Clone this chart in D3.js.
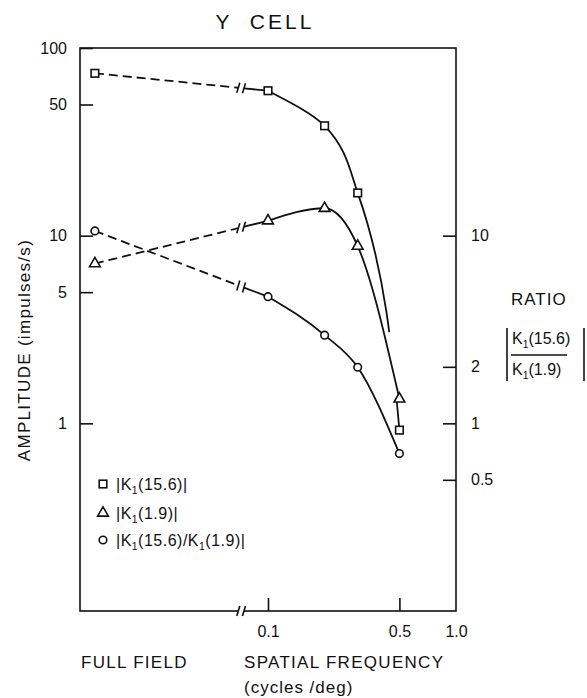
<!DOCTYPE html>
<html>
<head>
<meta charset="utf-8">
<script src="https://cdn.jsdelivr.net/npm/d3@7"></script>
<style>
body { margin: 0; background: #fff; }
text { font-family: "Liberation Sans", Arial, sans-serif; fill: #111; white-space: pre; }
</style>
</head>
<body>
<svg id="chart" width="587" height="698"></svg>
<script>
// data
var fullField = 0.012;              // x position used for the "full field" points
var breakLo = 0.0695, breakHi = 0.0745;  // axis break between full field and 0.1
var frequencies = [0.1, 0.2, 0.3, 0.5];   // cycles/deg
var k156Full = 73.3, k19Full = 7.1, ratioFull = 10.6;
var k156 = [59.2, 38.5, 16.9, 0.92];
var k19 = [12.0, 14.0, 8.8, 1.35];
var ratio = [4.73, 2.95, 1.99, 0.69];
var leftTicks = [100, 50, 10, 5, 1];
var rightTicks = [10, 2, 1, 0.5];
var bottomTicks = [0.1, 0.5, 1.0];

var series = [
    {shape: "square", full: k156Full, vals: k156},
    {shape: "triangle", full: k19Full, vals: k19},
    {shape: "circle", full: ratioFull, vals: ratio}
];

var svg = d3.select("#chart");
var plotL = 80, plotR = 456, plotT = 48, plotB = 611;

var x = d3.scaleLog().domain([0.01, 1]).range([plotL, plotR]);
var y = d3.scaleLog().domain([0.1, 100]).range([plotB, plotT]);

// title
svg.append("text").attr("x", 265).attr("y", 29).attr("text-anchor", "middle")
    .attr("font-size", 21).attr("letter-spacing", 3).text("Y  CELL");

// frame
svg.append("rect").attr("x", plotL).attr("y", plotT)
    .attr("width", plotR - plotL).attr("height", plotB - plotT)
    .attr("fill", "none").attr("stroke", "#111").attr("stroke-width", 1.6);

// axes
var gl = svg.append("g").attr("transform", "translate(" + plotL + ",0)")
    .call(d3.axisLeft(y).tickValues(leftTicks).tickSize(-13).tickPadding(13)
        .tickFormat(function(d){ return String(d); }));
var gr = svg.append("g").attr("transform", "translate(" + plotR + ",0)")
    .call(d3.axisRight(y).tickValues(rightTicks).tickSize(-13).tickPadding(15)
        .tickFormat(function(d){ return String(d); }));
var gb = svg.append("g").attr("transform", "translate(0," + plotB + ")")
    .call(d3.axisBottom(x).tickValues(bottomTicks).tickSize(-13).tickPadding(15)
        .tickFormat(function(d){ return d === 1 ? "1.0" : String(d); }));
[gl, gr, gb].forEach(function(g){
    g.select(".domain").remove();
    g.selectAll("line").attr("stroke", "#111").attr("stroke-width", 1.6);
    g.selectAll("text").attr("font-size", 16).attr("font-family", null).attr("fill", "#111");
});
gb.selectAll(".tick").filter(function(d){ return d === 1; }).select("line").remove();

// break marks
function breakMark(cx, cy) {
    svg.append("line").attr("x1", cx - 1.5).attr("y1", cy + 5).attr("x2", cx + 1.5).attr("y2", cy - 5)
        .attr("stroke", "#111").attr("stroke-width", 1.6);
}
svg.append("rect").attr("x", x(breakLo)).attr("y", plotB - 3)
    .attr("width", x(breakHi) - x(breakLo)).attr("height", 6).attr("fill", "#fff");
breakMark(x(breakLo), plotB);
breakMark(x(breakHi), plotB);

// clip for the square curve (the drawn curve stops above the triangle at 0.5)
var clip = svg.append("defs").append("clipPath").attr("id", "sqclip");
clip.append("rect").attr("x", 0).attr("y", 0).attr("width", 587).attr("height", y(3.06));
clip.append("rect").attr("x", 0).attr("y", y(1.3)).attr("width", 587).attr("height", 698 - y(1.3));

function curveFor(shape) {
    // the square curve drops almost vertically, so smooth it along y
    return d3.line().x(function(d){ return x(d[0]); }).y(function(d){ return y(d[1]); })
        .curve(shape === "square" ? d3.curveMonotoneY : d3.curveMonotoneX);
}

series.forEach(function(s) {
    var p0 = [x(fullField), y(s.full)];
    var p1 = [x(frequencies[0]), y(s.vals[0])];
    function at(xv) {
        var px = x(xv);
        return [px, p0[1] + (p1[1] - p0[1]) * (px - p0[0]) / (p1[0] - p0[0])];
    }
    var a = at(breakLo), b = at(breakHi);
    svg.append("line").attr("x1", p0[0]).attr("y1", p0[1]).attr("x2", a[0]).attr("y2", a[1])
        .attr("stroke", "#111").attr("stroke-width", 1.8).attr("stroke-dasharray", "9,5");
    svg.append("line").attr("x1", b[0]).attr("y1", b[1]).attr("x2", p1[0]).attr("y2", p1[1])
        .attr("stroke", "#111").attr("stroke-width", 1.8);
    breakMark(a[0], a[1]);
    breakMark(b[0], b[1]);
    var pts = frequencies.map(function(f, i){ return [f, s.vals[i]]; });
    var path = svg.append("path").attr("d", curveFor(s.shape)(pts)).attr("fill", "none")
        .attr("stroke", "#111").attr("stroke-width", 1.8);
    if (s.shape === "square") path.attr("clip-path", "url(#sqclip)");
});

// markers
function marker(g, shape, cx, cy) {
    if (shape === "square") {
        g.append("rect").attr("x", cx - 3.8).attr("y", cy - 3.8).attr("width", 7.6).attr("height", 7.6)
            .attr("fill", "#fff").attr("stroke", "#111").attr("stroke-width", 1.6);
    } else if (shape === "triangle") {
        g.append("path").attr("d", d3.symbol(d3.symbolTriangle, 50)())
            .attr("transform", "translate(" + cx + "," + cy + ")")
            .attr("fill", "#fff").attr("stroke", "#111").attr("stroke-width", 1.6);
    } else {
        g.append("circle").attr("cx", cx).attr("cy", cy).attr("r", 3.8)
            .attr("fill", "#fff").attr("stroke", "#111").attr("stroke-width", 1.6);
    }
}
var gm = svg.append("g");
series.forEach(function(s) {
    marker(gm, s.shape, x(fullField), y(s.full));
    frequencies.forEach(function(f, i){ marker(gm, s.shape, x(f), y(s.vals[i])); });
});

// K1 text helper: "1" parts become subscripts
function kText(t, parts, size) {
    var shift = 0;
    parts.forEach(function(p) {
        var sp = t.append("tspan");
        if (p === "1") {
            sp.attr("dy", 4).attr("font-size", size * 0.65).text("1");
            shift = -4;
        } else {
            if (shift) sp.attr("dy", shift);
            shift = 0;
            sp.text(p);
        }
    });
}

// legend
var legend = [
    {shape: "square", parts: ["|K", "1", "(15.6)|"]},
    {shape: "triangle", parts: ["|K", "1", "(1.9)|"]},
    {shape: "circle", parts: ["|K", "1", "(15.6)/K", "1", "(1.9)|"]}
];
var legendY = [484, 513, 540];
legend.forEach(function(l, i) {
    marker(svg, l.shape, 103, legendY[i]);
    var t = svg.append("text").attr("x", 116).attr("y", legendY[i] + 6)
        .attr("font-size", 16).attr("letter-spacing", 0.5);
    kText(t, l.parts, 16);
});

// axis titles
svg.append("text").attr("transform", "translate(30,350) rotate(-90)")
    .attr("text-anchor", "middle").attr("font-size", 17).attr("letter-spacing", 1.3)
    .text("AMPLITUDE (impulses/s)");
svg.append("text").attr("x", 81).attr("y", 668).attr("font-size", 17)
    .attr("letter-spacing", 1.3).text("FULL FIELD");
svg.append("text").attr("x", 244).attr("y", 668).attr("font-size", 17)
    .attr("letter-spacing", 1.3).text("SPATIAL FREQUENCY");
svg.append("text").attr("x", 244).attr("y", 693).attr("font-size", 17)
    .attr("letter-spacing", 1).text("(cycles /deg)");

// ratio label on the right
svg.append("text").attr("x", 511).attr("y", 305).attr("font-size", 17)
    .attr("letter-spacing", 1).text("RATIO");
var num = svg.append("text").attr("x", 512).attr("y", 344).attr("font-size", 16);
kText(num, ["K", "1", "(15.6)"], 16);
var den = svg.append("text").attr("x", 512).attr("y", 375).attr("font-size", 16);
kText(den, ["K", "1", "(1.9)"], 16);
svg.append("line").attr("x1", 511).attr("x2", 567).attr("y1", 355).attr("y2", 355)
    .attr("stroke", "#111").attr("stroke-width", 1.5);
svg.append("line").attr("x1", 507).attr("x2", 507).attr("y1", 328).attr("y2", 381)
    .attr("stroke", "#111").attr("stroke-width", 1.6);
svg.append("line").attr("x1", 584).attr("x2", 584).attr("y1", 328).attr("y2", 381)
    .attr("stroke", "#111").attr("stroke-width", 1.6);
</script>
</body>
</html>
